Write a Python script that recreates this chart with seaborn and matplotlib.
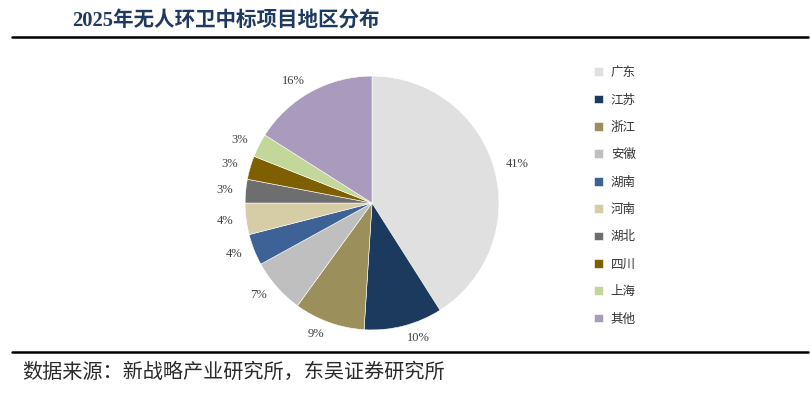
import matplotlib
matplotlib.use("Agg")
import matplotlib.pyplot as plt
import seaborn as sns
from matplotlib.lines import Line2D

# data
regions = ['广东', '江苏', '浙江', '安徽', '湖南', '河南', '湖北', '四川', '上海', '其他']
shares = [41, 10, 9, 7, 4, 4, 3, 3, 3, 16]
colors = ['#e0e0e0', '#1b3a5e', '#9b8f5b', '#bfbfbf', '#3d6396',
          '#d6cca6', '#6e6e6e', '#7f6000', '#c4d79b', '#a99bbd']
pct_labels = [f'{v}%' for v in shares]

title = '2025年无人环卫中标项目地区分布'
source = '数据来源：新战略产业研究所，东吴证券研究所'

sns.set_style('white')
plt.rcParams['font.family'] = ['Liberation Serif', 'Noto Sans CJK SC', 'DejaVu Sans']

fig = plt.figure(figsize=(8.10, 3.97), dpi=100)
ax = fig.add_axes([0.2556, 0.073, 0.4074, 0.8312])

wedges, texts = ax.pie(
    shares, colors=colors, startangle=90, counterclock=False,
    labels=pct_labels, labeldistance=1.1,
    textprops={'fontsize': 9, 'color': '#404040', 'family': 'Liberation Serif'},
    wedgeprops={'linewidth': 0.4, 'edgecolor': 'white'})
ax.set_xlim(-1.3, 1.3)
ax.set_ylim(-1.3, 1.3)
ax.set_aspect('equal')
ax.axis('off')

fig.legend(wedges, regions, loc='upper left', bbox_to_anchor=(0.72, 0.862),
           frameon=False, handlelength=0.7, handleheight=0.7,
           handletextpad=0.6, labelspacing=1.15,
           prop={'family': ['Noto Sans CJK SC'], 'size': 9})
for t in fig.legends[0].get_texts():
    t.set_color('#333333')

# header / footer
fig.text(0.089, 0.948, title, fontsize=14.8, fontweight='bold', color='#1f3a5f',
         va='center', ha='left', family=['Liberation Serif', 'Noto Sans CJK SC'])
fig.add_artist(Line2D([0.015, 0.997], [0.907, 0.907], color='black', lw=1.8,
                      transform=fig.transFigure))
fig.add_artist(Line2D([0.015, 0.997], [0.113, 0.113], color='black', lw=1.8,
                      transform=fig.transFigure))
fig.text(0.027, 0.063, source, fontsize=14.5, color='#2a2a2a', va='center', ha='left',
         family=['Noto Sans CJK SC'])

fig.savefig('out.png', dpi=100)
